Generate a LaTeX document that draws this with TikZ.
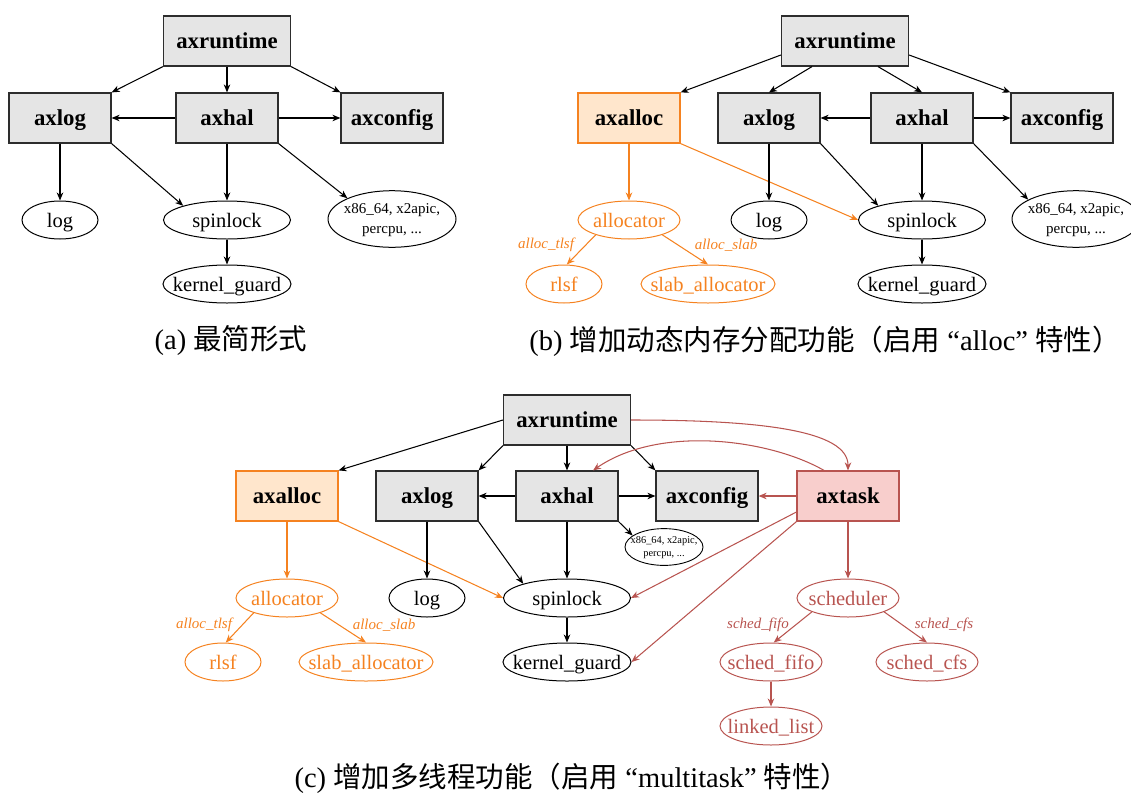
\documentclass[tikz,border=0pt]{standalone}
\usepackage{fontspec}
\setmainfont{Liberation Serif}
\newfontfamily\cjk{Noto Sans CJK SC}
\usetikzlibrary{arrows.meta,shapes.geometric}
\definecolor{myorange}{RGB}{245,130,32}
\definecolor{myorangefill}{RGB}{255,230,204}
\definecolor{myred}{RGB}{184,84,80}
\definecolor{myredfill}{RGB}{248,206,204}
\definecolor{myborder}{RGB}{45,45,45}
\newcommand\zw[1]{\makebox[0pt]{#1}}
\newcommand\xtext[1]{\zw{\begin{tabular}{@{}c@{}}x86\_64, x2apic,\\percpu, ...\end{tabular}}}
\begin{document}
\begin{tikzpicture}[x=1pt,y=-1pt,
  gbox/.style={draw=myborder, fill=black!10, line width=1.2pt, minimum width=102pt,
    minimum height=50pt, inner sep=0pt, text height=17pt, text depth=3pt,
    font=\bfseries\fontsize{22.8}{25}\selectfont},
  obox/.style={gbox, draw=myorange, fill=myorangefill},
  rbox/.style={gbox, draw=myred, fill=myredfill},
  ell/.style={ellipse, draw, line width=1pt, minimum height=38pt, inner sep=0pt,
    text height=15pt, text depth=1pt, font=\fontsize{20.5}{22}\selectfont},
  oell/.style={ell, draw=myorange, text=myorange},
  rell/.style={ell, draw=myred, text=myred},
  bigx/.style={ell, text height={}, text depth={}, minimum width=128pt, minimum height=51pt,
    font=\fontsize{15}{20}\selectfont},
  smallx/.style={ell, text height={}, text depth={}, minimum width=78pt, minimum height=30pt,
    line width=0.9pt, font=\fontsize{10.4}{13}\selectfont},
  arr/.style={-{Stealth[length=8pt,width=6.5pt,inset=2.5pt]}, line width=1.05pt},
  oarr/.style={arr, color=myorange},
  rarr/.style={arr, color=myred},
  olab/.style={font=\itshape\fontsize{15}{17}\selectfont, text=myorange, inner sep=0pt},
  rlab/.style={font=\itshape\fontsize{15}{17}\selectfont, text=myred, inner sep=0pt},
  captxt/.style={font=\fontsize{28.5}{32}\selectfont, inner sep=0pt}
]
\useasboundingbox (0,0) rectangle (1131,795);

% ================= (a) =================
\node[gbox, minimum width=127pt] (a-rt) at (227,41) {axruntime};
\node[gbox] (a-log) at (60,118) {axlog};
\node[gbox] (a-hal) at (227,118) {axhal};
\node[gbox] (a-cfg) at (392,118) {axconfig};
\node[ell, minimum width=76pt] (a-logc) at (60,220) {\zw{log}};
\node[ell, minimum width=127pt] (a-spin) at (227,220) {\zw{spinlock}};
\node[bigx] (a-x86) at (392,219) {\xtext{}};
\node[ell, minimum width=128pt] (a-kg) at (227,284) {\zw{kernel\_guard}};
\node[captxt] (a-cap) at (231,341) {(a) {\cjk 最简形式}};

\draw[arr] (a-rt.south west) -- (a-log.north east);
\draw[arr] (a-rt.south) -- (a-hal.north);
\draw[arr] (a-rt.south east) -- (a-cfg.north west);
\draw[arr] (a-hal.west) -- (a-log.east);
\draw[arr] (a-hal.east) -- (a-cfg.west);
\draw[arr] (a-log.south) -- (a-logc.north);
\draw[arr] (a-log.south east) -- (a-spin.162);
\draw[arr] (a-hal.south) -- (a-spin.north);
\draw[arr] (a-hal.south east) -- (a-x86.155);
\draw[arr] (a-spin.south) -- (a-kg.north);

% ================= (b) =================
\node[gbox, minimum width=127pt] (b-rt) at (845,41) {axruntime};
\node[obox] (b-alloc) at (629,118) {axalloc};
\node[gbox] (b-log) at (769,118) {axlog};
\node[gbox] (b-hal) at (922,118) {axhal};
\node[gbox] (b-cfg) at (1062,118) {axconfig};
\node[oell, minimum width=102pt] (b-allocator) at (629,220) {\zw{allocator}};
\node[ell, minimum width=76pt] (b-logc) at (769,220) {\zw{log}};
\node[ell, minimum width=127pt] (b-spin) at (922,220) {\zw{spinlock}};
\node[bigx] (b-x86) at (1076,219) {\xtext{}};
\node[oell, minimum width=76pt] (b-rlsf) at (564,284) {\zw{rlsf}};
\node[oell, minimum width=134pt] (b-slab) at (708,284) {\zw{slab\_allocator}};
\node[ell, minimum width=128pt] (b-kg) at (922,284) {\zw{kernel\_guard}};
\node[olab] (b-l1) at (546,245) {alloc\_tlsf};
\node[olab] (b-l2) at (726,245) {alloc\_slab};
\node[captxt] (b-cap) at (825,341) {(b) {\cjk 增加动态内存分配功能（启用} “alloc” {\cjk 特性）}};

\draw[arr] ([yshift=-14pt]b-rt.west) -- (b-alloc.north east);
\draw[arr] ([xshift=-33pt]b-rt.south) -- (b-log.north);
\draw[arr] ([xshift=33pt]b-rt.south) -- (b-hal.north);
\draw[arr] ([yshift=-14pt]b-rt.east) -- (b-cfg.north west);
\draw[arr] (b-hal.west) -- (b-log.east);
\draw[arr] (b-hal.east) -- (b-cfg.west);
\draw[oarr] (b-alloc.south) -- (b-allocator.north);
\draw[oarr] (b-alloc.south east) -- (b-spin.west);
\draw[arr] (b-log.south) -- (b-logc.north);
\draw[arr] (b-log.south east) -- (b-spin.162);
\draw[arr] (b-hal.south) -- (b-spin.north);
\draw[arr] (b-hal.south east) -- (b-x86.158);
\draw[arr] (b-spin.south) -- (b-kg.north);
\draw[oarr] (b-allocator.204) -- (b-rlsf.82);
\draw[oarr] (b-allocator.-24) -- (b-slab.north);

% ================= (c) =================
\node[gbox, minimum width=127pt] (c-rt) at (567,420) {axruntime};
\node[obox] (c-alloc) at (287,496) {axalloc};
\node[gbox] (c-log) at (427,496) {axlog};
\node[gbox] (c-hal) at (567,496) {axhal};
\node[gbox] (c-cfg) at (707,496) {axconfig};
\node[rbox] (c-task) at (848,496) {axtask};
\node[smallx] (c-x86) at (664,547) {\xtext{}};
\node[oell, minimum width=102pt] (c-allocator) at (287,598) {\zw{allocator}};
\node[ell, minimum width=76pt] (c-logc) at (427,598) {\zw{log}};
\node[ell, minimum width=127pt] (c-spin) at (567,598) {\zw{spinlock}};
\node[rell, minimum width=102pt] (c-sched) at (848,598) {\zw{scheduler}};
\node[oell, minimum width=76pt] (c-rlsf) at (223,662) {\zw{rlsf}};
\node[oell, minimum width=134pt] (c-slab) at (366,662) {\zw{slab\_allocator}};
\node[ell, minimum width=128pt] (c-kg) at (567,662) {\zw{kernel\_guard}};
\node[rell, minimum width=102pt] (c-fifo) at (771,662) {\zw{sched\_fifo}};
\node[rell, minimum width=102pt] (c-cfs) at (927,662) {\zw{sched\_cfs}};
\node[rell, minimum width=102pt] (c-ll) at (771,726) {\zw{linked\_list}};
\node[olab] (c-l1) at (204,625) {alloc\_tlsf};
\node[olab] (c-l2) at (384,625) {alloc\_slab};
\node[rlab] (c-l3) at (758,625) {sched\_fifo};
\node[rlab] (c-l4) at (944,625) {sched\_cfs};
\node[captxt] (c-cap) at (572,778) {(c) {\cjk 增加多线程功能（启用} “multitask” {\cjk 特性）}};

\draw[arr] (c-rt.west) -- (c-alloc.north east);
\draw[arr] (c-rt.south west) -- (c-log.north east);
\draw[arr] (c-rt.south) -- (c-hal.north);
\draw[arr] (c-rt.south east) -- (c-cfg.north west);
\draw[arr] (c-hal.west) -- (c-log.east);
\draw[arr] (c-hal.east) -- (c-cfg.west);
\draw[arr] (c-hal.south east) -- (c-x86.160);
\draw[oarr] (c-alloc.south) -- (c-allocator.north);
\draw[oarr] (c-alloc.south east) -- (c-spin.west);
\draw[arr] (c-log.south) -- (c-logc.north);
\draw[arr] (c-log.south east) -- (c-spin.162);
\draw[arr] (c-hal.south) -- (c-spin.north);
\draw[arr] (c-spin.south) -- (c-kg.north);
\draw[oarr] (c-allocator.204) -- (c-rlsf.82);
\draw[oarr] (c-allocator.-24) -- (c-slab.north);
\draw[rarr] (c-rt.east) .. controls +(130,0) and +(0,-40) .. (c-task.north);
\draw[rarr] ([xshift=-24pt]c-task.north) .. controls +(-54,-31) and +(67,-46) .. ([xshift=26pt]c-hal.north);
\draw[rarr] (c-task.west) -- (c-cfg.east);
\draw[rarr] ([yshift=-16pt]c-task.west) -- (c-spin.east);
\draw[rarr] (c-task.south west) -- (c-kg.east);
\draw[rarr] (c-task.south) -- (c-sched.north);
\draw[rarr] (c-sched.201) -- (c-fifo.82);
\draw[rarr] (c-sched.-21) -- (c-cfs.north);
\draw[rarr] (c-fifo.south) -- (c-ll.north);
\end{tikzpicture}
\end{document}
